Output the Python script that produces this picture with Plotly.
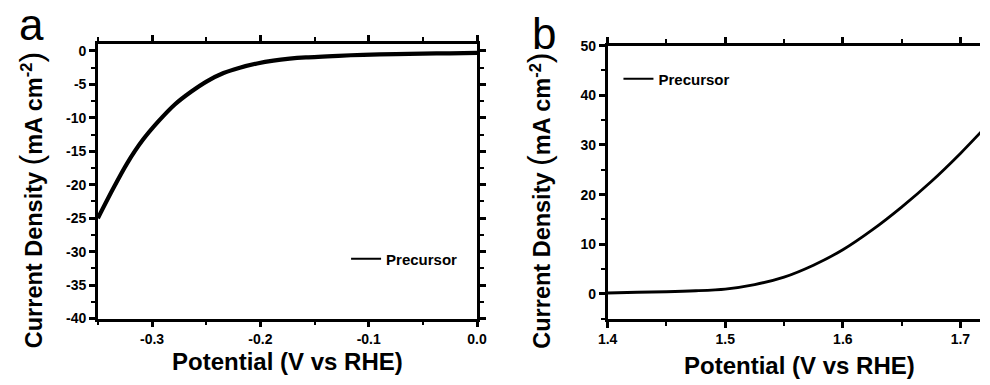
import plotly.graph_objects as go

# HER polarisation curve (panel a)
her_potential = [-0.35, -0.336, -0.323, -0.309, -0.294, -0.279, -0.264, -0.249, -0.234,
                 -0.219, -0.203, -0.188, -0.173, -0.158, -0.128, -0.105, -0.075, -0.05,
                 -0.025, 0.0]
her_current = [-25.0, -20.6, -16.8, -13.4, -10.5, -8.0, -6.1, -4.5, -3.3,
               -2.5, -1.87, -1.44, -1.15, -0.96, -0.72, -0.57, -0.46, -0.40,
               -0.35, -0.30]

# OER polarisation curve (panel b)
oer_potential = [1.400, 1.425, 1.450, 1.475, 1.500, 1.525, 1.550, 1.575, 1.600, 1.625,
                 1.650, 1.675, 1.700, 1.725]
oer_current = [0.2, 0.35, 0.45, 0.65, 1.0, 1.9, 3.4, 5.8, 8.9, 12.9,
               17.5, 22.6, 28.3, 34.5]

# tick labels
her_xticks = [-0.3, -0.2, -0.1, 0.0]
her_xticklabels = ["-0.3", "-0.2", "-0.1", "0.0"]
her_yticks = [0, -5, -10, -15, -20, -25, -30, -35, -40]
her_yticklabels = ["0", "-5", "-10", "-15", "-20", "-25", "-30", "-35", "-40"]
oer_xticks = [1.4, 1.5, 1.6, 1.7]
oer_xticklabels = ["1.4", "1.5", "1.6", "1.7"]
oer_yticks = [0, 10, 20, 30, 40, 50]
oer_yticklabels = ["0", "10", "20", "30", "40", "50"]

series_name = "Precursor"
panel_labels = ["a", "b"]
x_title = "Potential (V vs RHE)"

W, H = 990, 385
FONT = "Liberation Sans, Arial, sans-serif"


def px_x(p):
    return p / W


def px_y(p):
    return 1 - p / H


def bold(labels):
    return [f"<b>{t}</b>" for t in labels]


fig = go.Figure()

# curves
fig.add_trace(go.Scatter(x=her_potential, y=her_current, mode="lines",
                         line=dict(color="black", width=4.2, shape="spline", smoothing=0.8),
                         showlegend=False, xaxis="x", yaxis="y"))
fig.add_trace(go.Scatter(x=oer_potential, y=oer_current, mode="lines",
                         line=dict(color="black", width=2.8, shape="spline", smoothing=0.8),
                         showlegend=False, xaxis="x2", yaxis="y2"))
# legend entries
fig.add_trace(go.Scatter(x=[None], y=[None], mode="lines", name=f"<b>{series_name}</b>",
                         line=dict(color="black", width=2), legend="legend",
                         xaxis="x", yaxis="y"))
fig.add_trace(go.Scatter(x=[None], y=[None], mode="lines", name=f"<b>{series_name}</b>",
                         line=dict(color="black", width=2), legend="legend2",
                         xaxis="x2", yaxis="y2"))

tickfont = dict(family=FONT, size=14, color="black", weight=700)
axis_common = dict(showgrid=False, zeroline=False, showline=True, linecolor="#000000",
                   linewidth=2.5, ticks="outside", ticklen=6, tickwidth=2.5,
                   tickcolor="#000000", tickfont=tickfont, tickmode="array")
minor_common = dict(ticks="outside", ticklen=4, tickwidth=2, tickcolor="#000000",
                    showgrid=False)
legend_font = dict(family=FONT, size=15, color="black")

fig.update_layout(
    width=W, height=H,
    margin=dict(l=0, r=0, t=0, b=0),
    paper_bgcolor="white", plot_bgcolor="white",
    font=dict(family=FONT, color="black"),
    xaxis=dict(domain=[px_x(89.7), px_x(476.7)], range=[-0.35, 0.0],
               tickvals=her_xticks, ticktext=bold(her_xticklabels), mirror="allticks",
               minor=dict(tickmode="linear", tick0=0, dtick=0.05, **minor_common),
               anchor="y", **axis_common),
    yaxis=dict(domain=[px_y(324), px_y(37.5)], range=[-40, 1.05],
               tickvals=her_yticks, ticktext=bold(her_yticklabels), mirror="allticks",
               minor=dict(tickmode="linear", tick0=0, dtick=2.5, **minor_common),
               anchor="x", **axis_common),
    xaxis2=dict(domain=[px_x(610), 1.0], range=[1.4, 1.4 + 0.1 * (W - 610) / 120],
                tickvals=oer_xticks, ticktext=bold(oer_xticklabels), mirror="allticks",
                minor=dict(tickmode="linear", tick0=1.4, dtick=0.05, **minor_common),
                anchor="y2", **axis_common),
    yaxis2=dict(domain=[px_y(324.3), px_y(39.3)], range=[-5, 50],
                tickvals=oer_yticks, ticktext=bold(oer_yticklabels), mirror=False,
                minor=dict(tickmode="linear", tick0=0, dtick=5, **minor_common),
                anchor="x2", **axis_common),
    legend=dict(x=px_x(343), y=px_y(262), xanchor="left", yanchor="middle",
                bgcolor="rgba(0,0,0,0)", itemwidth=30, font=legend_font),
    legend2=dict(x=px_x(621), y=px_y(74), xanchor="left", yanchor="middle",
                 bgcolor="rgba(0,0,0,0)", itemwidth=30, font=legend_font),
)

y_title = ("<b>Current Density </b><span style='font-size:32px'>(</span>"
           "<b>mA cm<sup>-2</sup></b><span style='font-size:32px'>)</span>")

annotations = []
for cx, cy_x in [(283, 369), (806, 373)]:
    annotations.append(dict(text=f"<b>{x_title}</b>", x=px_x(cx), y=px_y(cy_x),
                            xref="paper", yref="paper", showarrow=False,
                            xanchor="center", yanchor="middle",
                            font=dict(family=FONT, size=24, color="black")))
for lab_x, lab_y, lab in [(22, 17, panel_labels[0]), (545, 27, panel_labels[1])]:
    annotations.append(dict(text=lab, x=px_x(lab_x), y=px_y(lab_y), xref="paper",
                            yref="paper", showarrow=False, xanchor="center",
                            yanchor="middle",
                            font=dict(family=FONT, size=44, color="black")))
for tx in (21, 540):
    annotations.append(dict(text=y_title, x=px_x(tx), y=px_y(201), xref="paper",
                            yref="paper", showarrow=False, textangle=-90,
                            xanchor="center", yanchor="middle",
                            font=dict(family=FONT, size=23.5, color="black")))
fig.update_layout(annotations=annotations)

fig.write_html("out.html")
